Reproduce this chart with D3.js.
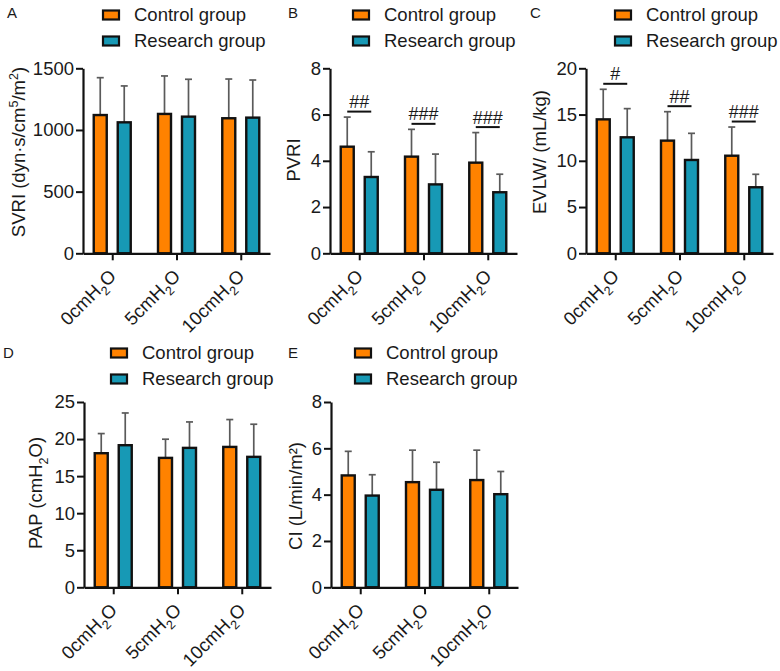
<!DOCTYPE html>
<html><head><meta charset="utf-8">
<script src="https://cdn.jsdelivr.net/npm/d3@7"></script>
<style>
body{margin:0;background:#fff;}
text{font-family:"Liberation Sans",Arial,Helvetica,sans-serif;fill:#1a1a1a;}
</style>
</head><body>
<svg id="chart" width="780" height="671"></svg>
<script>
// ---------- data ----------
const categories = ["0cmH2O", "5cmH2O", "10cmH2O"];
const groups = ["Control group", "Research group"];
const groupColors = ["#ff8200", "#1799b5"];

// A: SVRI
const svriControl = [1121, 1130, 1095];
const svriControlSD = [303, 308, 318];
const svriResearch = [1062, 1108, 1100];
const svriResearchSD = [295, 303, 305];
const svriTicks = [0, 500, 1000, 1500];

// B: PVRI
const pvriControl = [4.61, 4.18, 3.92];
const pvriControlSD = [1.28, 1.18, 1.30];
const pvriResearch = [3.30, 2.98, 2.64];
const pvriResearchSD = [1.09, 1.31, 0.78];
const pvriTicks = [0, 2, 4, 6, 8];
const pvriSig = ["##", "###", "###"];

// C: EVLW
const evlwControl = [14.48, 12.18, 10.55];
const evlwControlSD = [3.25, 3.13, 3.10];
const evlwResearch = [12.54, 10.09, 7.14];
const evlwResearchSD = [3.10, 2.88, 1.40];
const evlwTicks = [0, 5, 10, 15, 20];
const evlwSig = ["#", "##", "###"];

// D: PAP
const papControl = [18.09, 17.46, 18.94];
const papControlSD = [2.65, 2.52, 3.69];
const papResearch = [19.17, 18.81, 17.60];
const papResearchSD = [4.35, 3.50, 4.40];
const papTicks = [0, 5, 10, 15, 20, 25];

// E: CI
const ciControl = [4.83, 4.54, 4.63];
const ciControlSD = [1.04, 1.38, 1.29];
const ciResearch = [3.96, 4.21, 4.02];
const ciResearchSD = [0.90, 1.19, 0.98];
const ciTicks = [0, 2, 4, 6, 8];

// axis titles (parts: [text, kind])
const svriTitle = [["SVRI (dyn·s/cm"], ["5", "sup"], ["/m"], ["2", "sup"], [")"]];
const pvriTitle = [["PVRI"]];
const evlwTitle = [["EVLW/ (mL/kg)"]];
const papTitle = [["PAP (cmH"], ["2", "sub"], ["O)"]];
const ciTitle = [["CI (L/min/m²)"]];

// ---------- layout ----------
const panels = [
  {letter: "A", x0: 83, top: 68.3, bottom: 253.3, ticks: svriTicks, ctrl: svriControl, ctrlSD: svriControlSD,
   res: svriResearch, resSD: svriResearchSD, title: svriTitle, titleX: 19, titleY: 152, legendX: 102, legendY: 15, letterX: 7, letterY: 18, sig: null},
  {letter: "B", x0: 330, top: 68.3, bottom: 253.3, ticks: pvriTicks, ctrl: pvriControl, ctrlSD: pvriControlSD,
   res: pvriResearch, resSD: pvriResearchSD, title: pvriTitle, titleX: 294, titleY: 160, legendX: 352, legendY: 15, letterX: 288, letterY: 18, sig: pvriSig},
  {letter: "C", x0: 586, top: 68.3, bottom: 253.3, ticks: evlwTicks, ctrl: evlwControl, ctrlSD: evlwControlSD,
   res: evlwResearch, resSD: evlwResearchSD, title: evlwTitle, titleX: 540, titleY: 152, legendX: 614, legendY: 15, letterX: 530, letterY: 18, sig: evlwSig},
  {letter: "D", x0: 84, top: 402, bottom: 587.3, ticks: papTicks, ctrl: papControl, ctrlSD: papControlSD,
   res: papResearch, resSD: papResearchSD, title: papTitle, titleX: 36, titleY: 493, legendX: 110, legendY: 353, letterX: 3, letterY: 358, sig: null},
  {letter: "E", x0: 331, top: 402, bottom: 587.3, ticks: ciTicks, ctrl: ciControl, ctrlSD: ciControlSD,
   res: ciResearch, resSD: ciResearchSD, title: ciTitle, titleX: 296, titleY: 496, legendX: 354, legendY: 353, letterX: 288, letterY: 358, sig: null}
];

const PLOT_W = 187;
const FS = 18.5;
const svg = d3.select("#chart");

function rich(t, parts, fs) {
  let shift = 0;
  parts.forEach(([s, k]) => {
    const ts = t.append("tspan").text(s);
    const target = k === "sup" ? -fs * 0.42 : k === "sub" ? fs * 0.3 : 0;
    if (target - shift !== 0) ts.attr("dy", target - shift);
    shift = target;
    if (k) ts.attr("font-size", fs * 0.68);
  });
}
function catParts(s) {
  const i = s.indexOf("H2O");
  return [[s.slice(0, i + 1)], ["2", "sub"], ["O"]];
}

panels.forEach(p => {
  const g = svg.append("g");
  const y = d3.scaleLinear().domain([0, d3.max(p.ticks)]).range([p.bottom, p.top]);
  const x = d3.scalePoint().domain(categories).range([p.x0, p.x0 + PLOT_W]).padding(0.455);
  const xg = d3.scaleBand().domain(groups).range([-24, 24]);
  const BW = 13;

  const rows = categories.map((c, i) => [
    {cat: c, grp: groups[0], v: p.ctrl[i], sd: p.ctrlSD[i], col: groupColors[0]},
    {cat: c, grp: groups[1], v: p.res[i], sd: p.resSD[i], col: groupColors[1]}
  ]).flat();

  // error bars
  const eb = g.selectAll(".eb").data(rows).enter().append("g");
  eb.append("line")
    .attr("x1", d => x(d.cat) + xg(d.grp) + xg.bandwidth() / 2)
    .attr("x2", d => x(d.cat) + xg(d.grp) + xg.bandwidth() / 2)
    .attr("y1", d => y(d.v)).attr("y2", d => y(d.v + d.sd))
    .attr("stroke", "#5a5a5a").attr("stroke-width", 1.7);
  eb.append("line")
    .attr("x1", d => x(d.cat) + xg(d.grp) + xg.bandwidth() / 2 - 3.5)
    .attr("x2", d => x(d.cat) + xg(d.grp) + xg.bandwidth() / 2 + 3.5)
    .attr("y1", d => y(d.v + d.sd)).attr("y2", d => y(d.v + d.sd))
    .attr("stroke", "#5a5a5a").attr("stroke-width", 1.7);

  // bars
  g.selectAll(".bar").data(rows).enter().append("rect")
    .attr("x", d => x(d.cat) + xg(d.grp) + xg.bandwidth() / 2 - BW / 2)
    .attr("width", BW)
    .attr("y", d => y(d.v))
    .attr("height", d => y(0) - y(d.v))
    .attr("fill", d => d.col)
    .attr("stroke", "#111").attr("stroke-width", 2.4);

  // y axis
  const ya = g.append("g").attr("transform", `translate(${p.x0},0)`)
    .call(d3.axisLeft(y).tickValues(p.ticks).tickFormat(d3.format("d")).tickSize(7).tickSizeOuter(0).tickPadding(2));
  ya.select(".domain").attr("stroke", "#111").attr("stroke-width", 2.2);
  ya.selectAll(".tick line").attr("stroke", "#111").attr("stroke-width", 2);
  ya.selectAll(".tick text").attr("font-size", FS).attr("fill", "#1a1a1a")
    .attr("font-family", '"Liberation Sans",Arial,sans-serif');

  // x axis
  const xa = g.append("g").attr("transform", `translate(0,${p.bottom})`)
    .call(d3.axisBottom(x).tickSize(7).tickSizeOuter(0).tickFormat(""));
  xa.select(".domain").attr("stroke", "#111").attr("stroke-width", 2.2);
  xa.selectAll(".tick line").attr("stroke", "#111").attr("stroke-width", 2);
  categories.forEach(c => {
    const t = g.append("text")
      .attr("transform", `translate(${x(c) + 5},${p.bottom + 24}) rotate(-45)`)
      .attr("text-anchor", "end").attr("font-size", FS);
    rich(t, catParts(c), FS);
  });

  // y title
  const tt = g.append("text")
    .attr("transform", `translate(${p.titleX},${p.titleY}) rotate(-90)`)
    .attr("text-anchor", "middle").attr("dy", "0.35em").attr("font-size", FS);
  rich(tt, p.title, FS);

  // significance
  if (p.sig) {
    p.sig.forEach((s, i) => {
      const c = categories[i];
      const hi = Math.max(p.ctrl[i] + p.ctrlSD[i], p.res[i] + p.resSD[i]);
      const ly = y(hi) - 5.5;
      const xa0 = x(c) + xg(groups[0]) + xg.bandwidth() / 2;
      const xa1 = x(c) + xg(groups[1]) + xg.bandwidth() / 2;
      g.append("line").attr("x1", xa0).attr("x2", xa1).attr("y1", ly).attr("y2", ly)
        .attr("stroke", "#111").attr("stroke-width", 2);
      g.append("text").attr("x", (xa0 + xa1) / 2).attr("y", ly - 3.5)
        .attr("text-anchor", "middle").attr("font-size", 18).text(s);
    });
  }

  // legend
  groups.forEach((gr, k) => {
    const ly = p.legendY + k * 26;
    g.append("rect").attr("x", p.legendX + 1).attr("y", ly - 4.5).attr("width", 16).attr("height", 9)
      .attr("fill", groupColors[k]).attr("stroke", "#111").attr("stroke-width", 2.2);
    g.append("text").attr("x", p.legendX + 32).attr("y", ly).attr("dy", "0.35em")
      .attr("font-size", FS).text(gr);
  });

  // panel letter
  g.append("text").attr("x", p.letterX).attr("y", p.letterY).attr("font-size", 15).text(p.letter);
});
</script>
</body></html>
